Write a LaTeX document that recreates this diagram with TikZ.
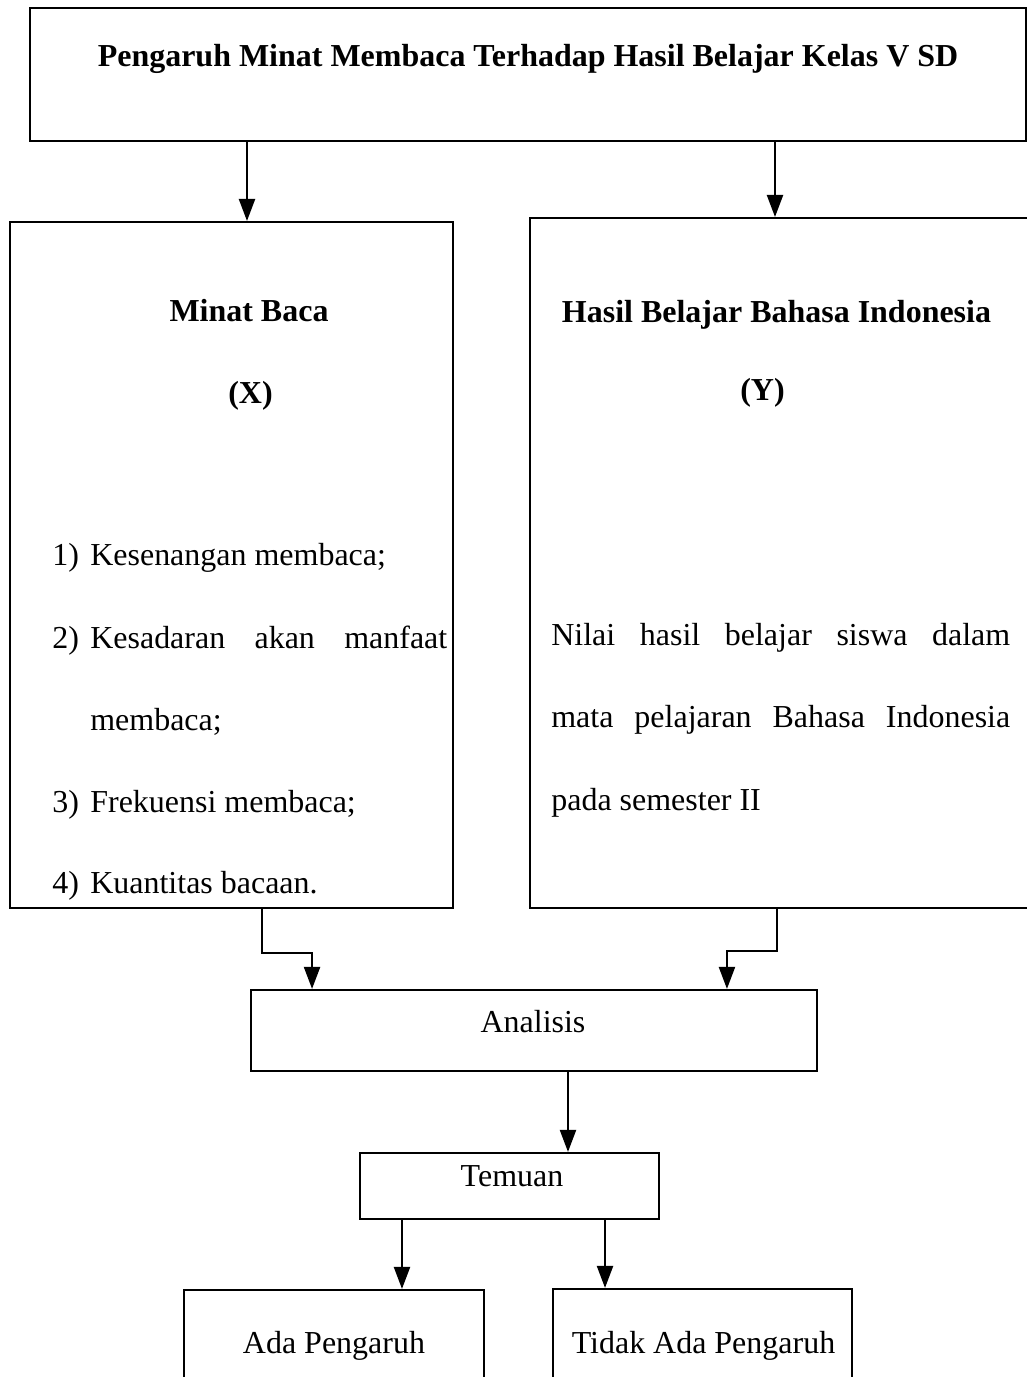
\documentclass[tikz,border=0pt]{standalone}
\usepackage{fontspec}
\setmainfont{Liberation Serif}
\usetikzlibrary{arrows.meta}

\newcommand{\butir}[2]{\hbox to 0.76cm{#1\hfill}#2}

\begin{document}
\begin{tikzpicture}[x=0.02cm, y=-0.02cm,
  kotak/.style={draw, line width=1.25pt, inner sep=0pt},
  teks/.style={anchor=base, inner sep=0pt, font=\fontsize{18.2}{22}\selectfont},
  tebal/.style={teks, font=\fontsize{18.2}{22}\selectfont\bfseries},
  panah/.style={line width=1.25pt, -{Triangle[length=0.44cm, width=0.32cm]}}]
\useasboundingbox (0,0) rectangle (1027,1377);
% kotak
\node[kotak, minimum width=19.92cm, minimum height=2.66cm] (judul) at (528,74.5) {};
\node[kotak, minimum width=8.86cm, minimum height=13.72cm] (minat) at (231.5,565) {};
\node[kotak, minimum width=10.04cm, minimum height=13.8cm] (hasil) at (781,563) {};
\node[kotak, minimum width=11.32cm, minimum height=1.62cm] (analisis) at (534,1030.5) {};
\node[kotak, minimum width=5.98cm, minimum height=1.32cm] (temuan) at (509.5,1186) {};
\node[kotak, minimum width=6cm, minimum height=2.2cm] (ada) at (334,1345) {};
\node[kotak, minimum width=5.98cm, minimum height=2.22cm] (tidak) at (702.5,1344.5) {};
% teks
\node[tebal] (judulT) at (528,66) {Pengaruh Minat Membaca Terhadap Hasil Belajar Kelas V SD};
\node[tebal] (minatT) at (249,321) {Minat Baca};
\node[tebal] (minatX) at (250.5,403) {(X)};
\node[tebal] (hasilT) at (776.5,322) {Hasil Belajar Bahasa Indonesia};
\node[tebal] (hasilY) at (762.5,400) {(Y)};
\node[teks, anchor=base west] (b1) at (52,565) {\butir{1)}{Kesenangan membaca;}};
\node[teks, anchor=base west] (b2) at (52,648) {\butir{2)}{\hbox to 7.14cm{Kesadaran\hfill akan\hfill manfaat}}};
\node[teks, anchor=base west] (b2b) at (90,730) {membaca;};
\node[teks, anchor=base west] (b3) at (52,812) {\butir{3)}{Frekuensi membaca;}};
\node[teks, anchor=base west] (b4) at (52,893) {\butir{4)}{Kuantitas bacaan.}};
\node[teks, anchor=base west] (n1) at (551,645) {\hbox to 9.18cm{Nilai\hfill hasil\hfill belajar\hfill siswa\hfill dalam}};
\node[teks, anchor=base west] (n2) at (551,727) {\hbox to 9.18cm{mata\hfill pelajaran\hfill Bahasa\hfill Indonesia}};
\node[teks, anchor=base west] (n3) at (551,810) {pada semester II};
\node[teks] (analisisT) at (533,1032) {Analisis};
\node[teks] (temuanT) at (512,1186) {Temuan};
\node[teks] (adaT) at (334,1353) {Ada Pengaruh};
\node[teks] (tidakT) at (703.5,1353) {Tidak Ada Pengaruh};
% panah
\coordinate (a1) at ([xshift=0.31cm]minat.north);
\draw[panah] (judul.south -| a1) -- (a1);
\coordinate (a2) at ([xshift=-0.12cm]hasil.north);
\draw[panah] (judul.south -| a2) -- (a2);
\coordinate (a3) at ([xshift=-4.44cm]analisis.north);
\draw[panah] ([xshift=0.61cm]minat.south) -- ++(0,44) -| (a3);
\coordinate (a4) at ([xshift=3.86cm]analisis.north);
\draw[panah] ([xshift=-0.08cm]hasil.south) -- ++(0,42) -| (a4);
\coordinate (a5) at ([xshift=0.68cm]analisis.south);
\draw[panah] (a5) -- (a5 |- temuan.north);
\coordinate (a6) at ([xshift=1.36cm]ada.north);
\draw[panah] (temuan.south -| a6) -- (a6);
\coordinate (a7) at ([xshift=-1.95cm]tidak.north);
\draw[panah] (temuan.south -| a7) -- (a7);
\end{tikzpicture}
\end{document}
